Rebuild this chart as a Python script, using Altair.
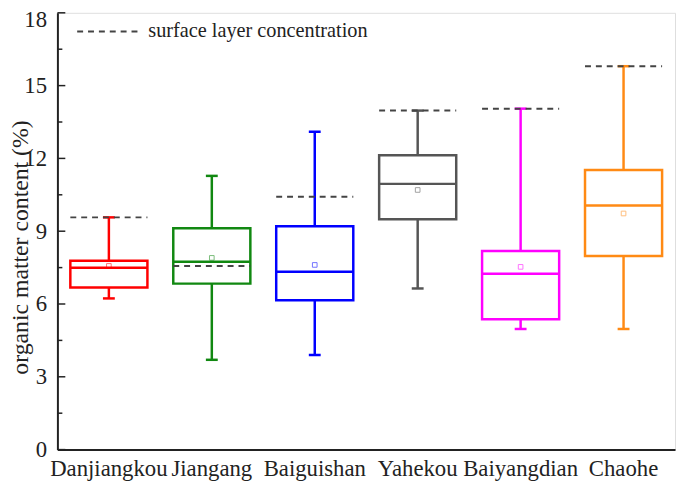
import altair as alt
import pandas as pd

sites = ["Danjiangkou", "Jiangang", "Baiguishan", "Yahekou", "Baiyangdian", "Chaohe"]
colors = ["#FF0000", "#118811", "#0000FF", "#555555", "#FF00FF", "#FF8A14"]
whisker_low = [6.23, 3.70, 3.90, 6.64, 4.97, 4.97]
q1 = [6.68, 6.84, 6.15, 9.49, 5.37, 7.98]
median = [7.49, 7.74, 7.33, 10.95, 7.25, 10.06]
q3 = [7.78, 9.12, 9.20, 12.13, 8.18, 11.52]
whisker_high = [9.57, 11.28, 13.10, 13.97, 14.05, 15.80]
mean = [7.57, 7.90, 7.61, 10.70, 7.53, 9.73]
surface = [9.57, 7.57, 10.42, 13.97, 14.05, 15.80]

major_ticks = [0, 3, 6, 9, 12, 15, 18]
minor_ticks = [1.5, 4.5, 7.5, 10.5, 13.5, 16.5]

df = pd.DataFrame({
    "site": sites, "lo": whisker_low, "q1": q1, "med": median,
    "q3": q3, "hi": whisker_high, "mean": mean, "surface": surface,
})

FONT = "Liberation Serif"

xenc = alt.X(
    "site:N",
    scale=alt.Scale(domain=sites, paddingInner=0, paddingOuter=0),
    axis=alt.Axis(title=None, labelAngle=0, ticks=False, labelFontSize=23,
                  labelPadding=8, labelColor="#222222", domainColor="#222222",
                  domainWidth=2, labelFont=FONT),
)
yscale = alt.Scale(domain=[0, 18], nice=False, zero=True)
col = alt.Color("site:N", scale=alt.Scale(domain=sites, range=colors), legend=None)

base = alt.Chart(df)

boxes = base.mark_bar(size=78, fill="transparent", strokeWidth=2.5, opacity=1).encode(
    x=xenc,
    y=alt.Y("q1:Q", scale=yscale,
            axis=alt.Axis(title="organic matter content (%)", values=major_ticks,
                          ticks=False, grid=False, labelFontSize=23, labelPadding=11,
                          labelColor="#222222", labelFont=FONT,
                          labelOffset=alt.condition("datum.value == 18", alt.value(7), alt.value(0)),
                          domainColor="#222222", domainWidth=2,
                          titleFontSize=24, titleFont=FONT, titleFontWeight="normal",
                          titleColor="#222222", titleAngle=-90, titleX=-30, titleY=237,
                          titleBaseline="alphabetic", titleAlign="center")),
    y2="q3:Q",
    stroke=col,
)

medians = base.mark_tick(size=78, thickness=2.5, opacity=1).encode(
    x="site:N", y="med:Q", color=col)

w_up = base.mark_rule(strokeWidth=2.5, opacity=1).encode(x="site:N", y="q3:Q", y2="hi:Q", color=col)
w_dn = base.mark_rule(strokeWidth=2.5, opacity=1).encode(x="site:N", y="lo:Q", y2="q1:Q", color=col)
cap_hi = base.mark_tick(size=12, thickness=2.5, opacity=1).encode(x="site:N", y="hi:Q", color=col)
cap_lo = base.mark_tick(size=12, thickness=2.5, opacity=1).encode(x="site:N", y="lo:Q", color=col)

means = base.mark_point(shape="square", filled=False, size=22, strokeWidth=1, opacity=0.55).encode(
    x="site:N", y="mean:Q", color=col)

surf = base.mark_rule(strokeDash=[6, 5], strokeWidth=2, color="#444444",
                      xOffset=-39, x2Offset=39).encode(
    x="site:N", x2="site", y="surface:Q")

tick_df = pd.DataFrame({"v": major_ticks})
minor_df = pd.DataFrame({"v": minor_ticks})
maj = alt.Chart(tick_df).mark_rule(color="#222222", strokeWidth=1.5).encode(
    x=alt.value(0), x2=alt.value(8), y="v:Q")
mnr = alt.Chart(minor_df).mark_rule(color="#222222", strokeWidth=1.5).encode(
    x=alt.value(0), x2=alt.value(5), y="v:Q")

one = pd.DataFrame({"label": ["surface layer concentration"]})
leg_line = alt.Chart(one).mark_rule(strokeDash=[6, 5], strokeWidth=2, color="#444444").encode(
    x=alt.value(20), x2=alt.value(85), y=alt.value(19))
leg_text = alt.Chart(one).mark_text(align="left", baseline="middle", fontSize=20.5,
                                    font=FONT, color="#222222").encode(
    x=alt.value(92), y=alt.value(18), text="label:N")

chart = alt.layer(
    boxes, w_up, w_dn, cap_hi, cap_lo, medians, means, surf, maj, mnr, leg_line, leg_text
).properties(
    width=625, height=442,
    padding={"left": 50, "top": 2, "right": 2, "bottom": 36},
    autosize=alt.AutoSizeParams(type="none"),
).configure_view(
    stroke="#222222", strokeWidth=2
).configure(font=FONT)

chart.save("out.html", embed_options={"renderer": "svg", "actions": False})
